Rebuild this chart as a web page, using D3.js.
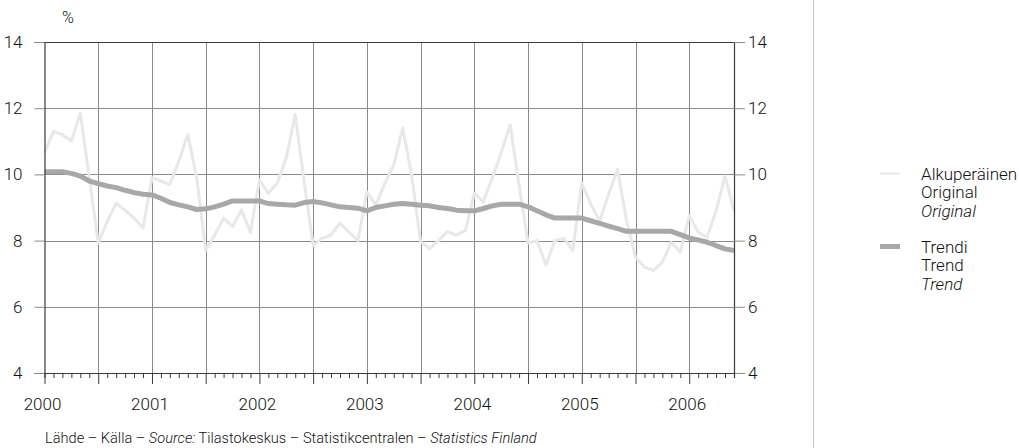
<!DOCTYPE html>
<html>
<head>
<meta charset="utf-8">
<script src="https://cdn.jsdelivr.net/npm/d3@7/dist/d3.min.js"></script>
<style>
  html, body { margin: 0; padding: 0; background: #fff; }
  svg { display: block; }
  text { font-family: Roboto, "Liberation Sans Narrow", sans-serif; font-weight: 300; fill: #111; }
</style>
</head>
<body>
<script>
// ---- data (monthly, Jan 2000 = index 0 .. Jun 2006 = index 77) ----
const yearLabels = ["2000", "2001", "2002", "2003", "2004", "2005", "2006"];
const yTickValues = [4, 6, 8, 10, 12, 14];
const original = [
  10.65, 11.3, 11.2, 11.0, 11.85, 9.9, 7.93, 8.57, 9.13, 8.92, 8.68, 8.38,
  9.9, 9.8, 9.7, 10.4, 11.2, 9.9, 7.7, 8.17, 8.68, 8.42, 8.93, 8.25,
  9.83, 9.43, 9.74, 10.5, 11.8, 9.78, 7.85, 8.07, 8.17, 8.53, 8.26, 8.0,
  9.47, 9.07, 9.73, 10.28, 11.4, 9.98, 7.97, 7.75, 8.0, 8.27, 8.17, 8.3,
  9.43, 9.17, 9.89, 10.65, 11.5, 9.68, 7.93, 8.0, 7.26, 8.0, 8.07, 7.7,
  9.74, 9.1, 8.6, 9.4, 10.15, 8.6, 7.5, 7.2, 7.1, 7.35, 7.95, 7.65,
  8.75, 8.25, 8.1, 8.9, 9.95, 8.9
];
const trend = [
  10.08, 10.08, 10.08, 10.03, 9.95, 9.8, 9.72, 9.65, 9.6, 9.52, 9.45, 9.4,
  9.38, 9.28, 9.15, 9.08, 9.02, 8.94, 8.96, 9.02, 9.1, 9.2, 9.2, 9.2,
  9.2, 9.12, 9.1, 9.08, 9.07, 9.15, 9.18, 9.14, 9.08, 9.02, 9.0, 8.98,
  8.9, 9.0, 9.05, 9.1, 9.12, 9.1, 9.07, 9.05, 9.0, 8.97, 8.92, 8.9,
  8.9, 8.97, 9.05, 9.1, 9.1, 9.1, 9.02, 8.9, 8.78, 8.68, 8.68, 8.68,
  8.68, 8.6, 8.52, 8.44, 8.36, 8.28, 8.28, 8.28, 8.28, 8.28, 8.28, 8.18,
  8.08, 8.02, 7.95, 7.85, 7.75, 7.7
];
const legendOriginal = ["Alkuperäinen", "Original", "Original"];
const legendTrend = ["Trendi", "Trend", "Trend"];
const sourceParts = [
  ["Lähde – Källa – ", false], ["Source:", true], [" Tilastokeskus – Statistikcentralen – ", false], ["Statistics Finland", true]
];

// ---- layout ----
const W = 1019, H = 448;
const pL = 44.5, pR = 734, pT = 42, pB = 373;
const nMonths = original.length;

const svg = d3.select("body").append("svg").attr("width", W).attr("height", H);

const x = d3.scaleLinear().domain([0, nMonths - 1]).range([pL, pR]);
const y = d3.scaleLinear().domain([4, 14]).range([pB, pT]);

const gridColor = "#8a8a8a";
const frameColor = "#3a3a3a";

// vertical gridlines every 6 months
const halfYears = d3.range(6, nMonths, 6);
svg.append("g").selectAll("line").data(halfYears).join("line")
  .attr("x1", d => Math.round(x(d)) + 0.5).attr("x2", d => Math.round(x(d)) + 0.5)
  .attr("y1", pT).attr("y2", pB)
  .attr("stroke", gridColor).attr("stroke-width", 1);

// horizontal gridlines
svg.append("g").selectAll("line").data(yTickValues.filter(v => v > 4 && v < 14)).join("line")
  .attr("x1", pL).attr("x2", pR)
  .attr("y1", d => Math.round(y(d)) + 0.5).attr("y2", d => Math.round(y(d)) + 0.5)
  .attr("stroke", gridColor).attr("stroke-width", 1);

// lines
const line = d3.line().x((d, i) => x(i)).y(d => y(d));
svg.append("path").datum(original).attr("d", line)
  .attr("fill", "none").attr("stroke", "#e8e8e8").attr("stroke-width", 3)
  .attr("stroke-linejoin", "round");
svg.append("path").datum(trend).attr("d", line)
  .attr("fill", "none").attr("stroke", "#a8a8a8").attr("stroke-width", 5)
  .attr("stroke-linejoin", "round");

// top frame
svg.append("line").attr("x1", pL).attr("x2", pR).attr("y1", pT + 0.5).attr("y2", pT + 0.5)
  .attr("stroke", frameColor).attr("stroke-width", 1.2);

// left axis
const yLeft = svg.append("g").attr("transform", `translate(${pL},0)`)
  .call(d3.axisLeft(y).tickValues(yTickValues).tickSize(10).tickPadding(12).tickFormat(d3.format("d")));
// right axis
const yRight = svg.append("g").attr("transform", `translate(${pR},0)`)
  .call(d3.axisRight(y).tickValues(yTickValues).tickSize(11).tickPadding(3).tickFormat(d3.format("d")));
[yLeft, yRight].forEach(g => {
  g.select(".domain").attr("stroke", frameColor).attr("stroke-width", 1.2);
  g.selectAll(".tick line").attr("stroke", gridColor);
  g.selectAll("text").attr("font-size", 17).attr("fill", "#111")
    .attr("font-family", "Roboto, sans-serif").attr("font-weight", 300);
});

// bottom axis: monthly minor ticks, half-year major ticks, year labels
const xAxisG = svg.append("g").attr("transform", `translate(0,${pB})`);
xAxisG.call(d3.axisBottom(x).tickValues(d3.range(0, nMonths)).tickSize(5).tickFormat(""));
xAxisG.select(".domain").attr("stroke", frameColor).attr("stroke-width", 1.2);
xAxisG.selectAll(".tick line").attr("stroke", frameColor)
  .attr("y2", d => d % 6 === 0 ? 11 : 5);
xAxisG.append("g").selectAll("text").data(yearLabels).join("text")
  .attr("x", (d, i) => x(i * 12) - 2)
  .attr("y", 37)
  .attr("text-anchor", "middle")
  .attr("font-size", 17)
  .attr("fill", "#111")
  .text(d => d);

// % label
svg.append("text").attr("x", 62).attr("y", 23).attr("font-size", 16).text("%");

// source
const src = svg.append("text").attr("x", 45).attr("y", 443).attr("font-size", 14.6);
sourceParts.forEach(([t, it]) => {
  src.append("tspan").attr("font-style", it ? "italic" : "normal").text(t);
});

// separator
svg.append("line").attr("x1", 813.5).attr("x2", 813.5).attr("y1", 0).attr("y2", H)
  .attr("stroke", "#c8c8c8").attr("stroke-width", 1);

// legend
const legend = svg.append("g");
const lx = 880, tx = 921;
function legendItem(y0, labels, color, width) {
  legend.append("line").attr("x1", lx).attr("x2", lx + 20).attr("y1", y0).attr("y2", y0)
    .attr("stroke", color).attr("stroke-width", width);
  labels.forEach((t, i) => {
    legend.append("text").attr("x", tx).attr("y", y0 + 6 + i * 18.5)
      .attr("font-size", 17).attr("font-style", i === 2 ? "italic" : "normal").text(t);
  });
}
legendItem(173.5, legendOriginal, "#e6e6e6", 2);
legendItem(246.5, legendTrend, "#a8a8a8", 5);
</script>
</body>
</html>
